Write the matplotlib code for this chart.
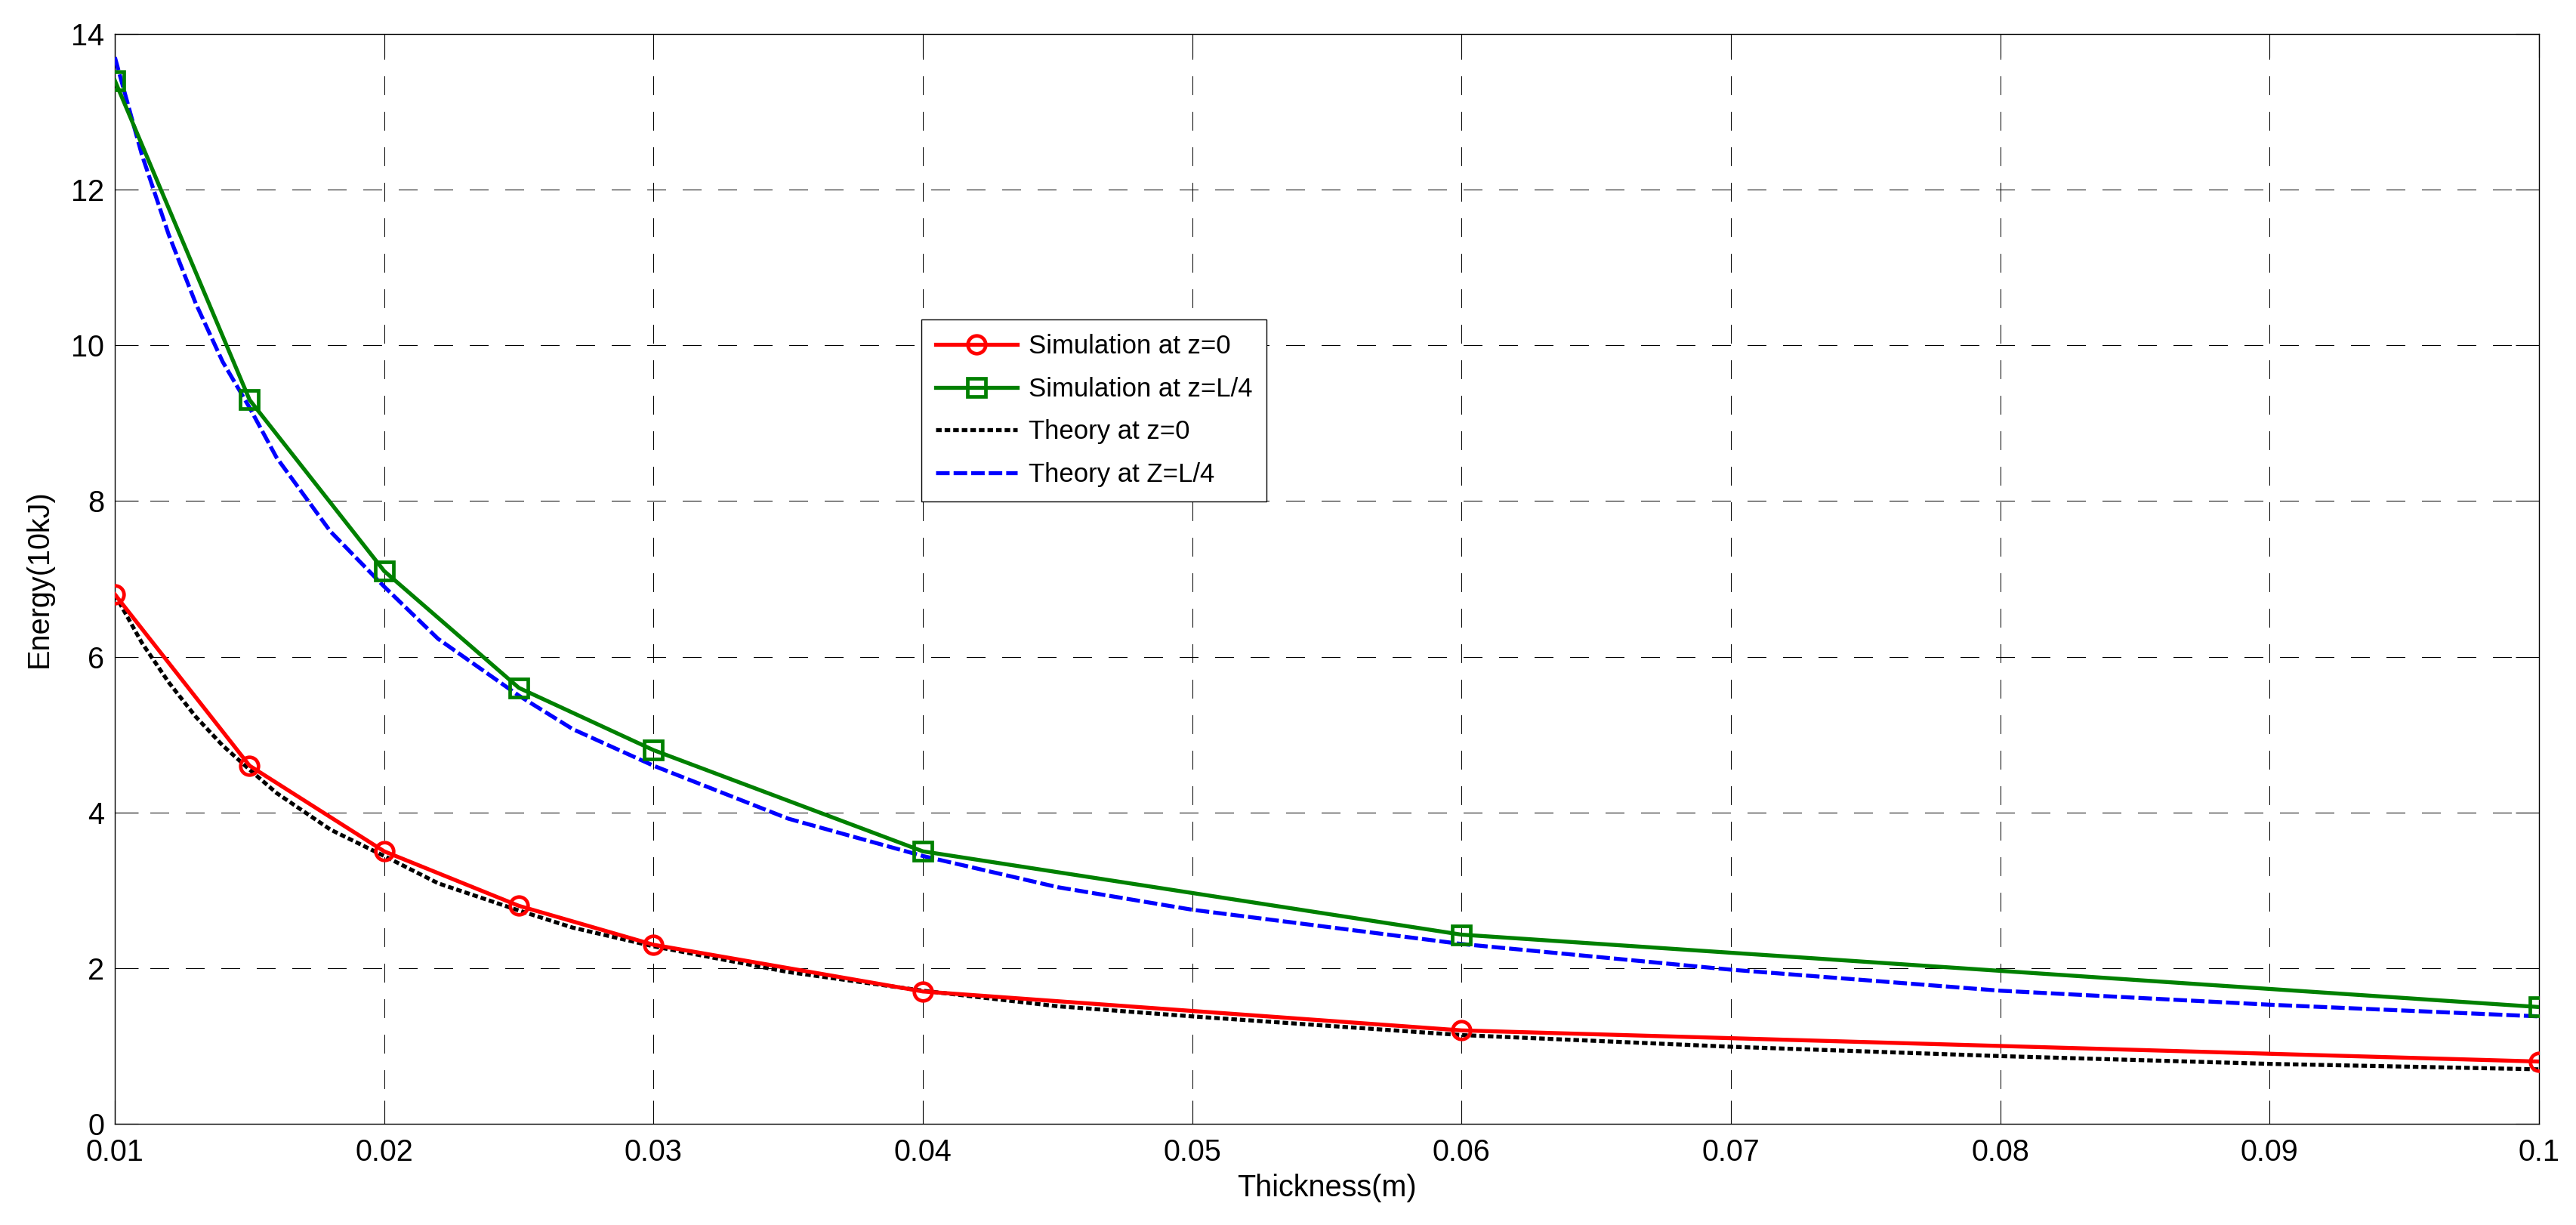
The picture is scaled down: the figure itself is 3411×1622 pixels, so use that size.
import matplotlib
matplotlib.use('Agg')
import matplotlib.pyplot as plt

plt.rcParams['font.family'] = ['Liberation Sans', 'DejaVu Sans']

# simulation points
sim_x = [0.01, 0.015, 0.02, 0.025, 0.03, 0.04, 0.06, 0.1]
sim_z0 = [6.8, 4.6, 3.5, 2.8, 2.3, 1.7, 1.2, 0.8]
sim_zl4 = [13.4, 9.3, 7.1, 5.6, 4.8, 3.5, 2.43, 1.5]

# theory curves
th_x = [0.01, 0.011, 0.012, 0.013, 0.014, 0.015, 0.016, 0.018, 0.02,
        0.022, 0.025, 0.027, 0.03, 0.035, 0.04, 0.045, 0.05, 0.06,
        0.07, 0.08, 0.09, 0.1]
th_z0 = [6.8, 6.18, 5.67, 5.23, 4.86, 4.55, 4.25, 3.78, 3.44,
         3.09, 2.74, 2.52, 2.28, 1.95, 1.71, 1.51, 1.38, 1.14,
         0.99, 0.87, 0.77, 0.70]
th_zl4 = [13.7, 12.45, 11.42, 10.54, 9.79, 9.2, 8.56, 7.61, 6.9,
          6.23, 5.5, 5.07, 4.6, 3.92, 3.44, 3.04, 2.75, 2.31,
          1.98, 1.71, 1.53, 1.38]

xticks = [0.01, 0.02, 0.03, 0.04, 0.05, 0.06, 0.07, 0.08, 0.09, 0.1]
xticklabels = ['0.01', '0.02', '0.03', '0.04', '0.05', '0.06', '0.07', '0.08', '0.09', '0.1']
yticks = [0, 2, 4, 6, 8, 10, 12, 14]

fig = plt.figure(figsize=(34.11, 16.22), dpi=100)
ax = fig.add_axes([0.0446, 0.0826, 0.941, 0.8897])

lw = 3.8
ax.plot(sim_x, sim_z0, '-o', color='#ff0000', lw=lw, ms=17, mew=3.4,
        mfc='none', label='Simulation at z=0', zorder=4)
ax.plot(sim_x, sim_zl4, '-s', color='#008000', lw=lw, ms=17, mew=3.4,
        mfc='none', label='Simulation at z=L/4', zorder=4)
ax.plot(th_x, th_z0, color='black', lw=lw, dashes=(1.4, 0.75),
        label='Theory at z=0', zorder=3)
ax.plot(th_x, th_zl4, color='#0000ff', lw=lw, dashes=(3.4, 1.0),
        label='Theory at Z=L/4', zorder=3)

ax.set_xlim(0.01, 0.1)
ax.set_ylim(0, 14)
ax.set_xticks(xticks)
ax.set_xticklabels(xticklabels)
ax.set_yticks(yticks)
ax.tick_params(direction='in', length=22, width=0.8, labelsize=28.5,
               top=True, right=True)
ax.tick_params(axis='x', pad=14)
ax.tick_params(axis='y', pad=10)
ax.grid(True, color='black', lw=0.8, linestyle=(0, (22, 20.5)), antialiased=False)
for s in ax.spines.values():
    s.set_linewidth(1.0)

ax.set_xlabel('Thickness(m)', fontsize=28.5, labelpad=6)
ax.set_ylabel('Energy(10kJ)', fontsize=28.5, labelpad=17)

leg = ax.legend(loc='upper left', bbox_to_anchor=(0.3327, 0.738),
                fontsize=25, frameon=True, fancybox=False, framealpha=1,
                edgecolor='black', handlelength=3.1, handletextpad=0.43,
                labelspacing=0.68, borderpad=0.55, borderaxespad=0)
leg.get_frame().set_linewidth(1.0)

fig.savefig('out.png', dpi=100)
